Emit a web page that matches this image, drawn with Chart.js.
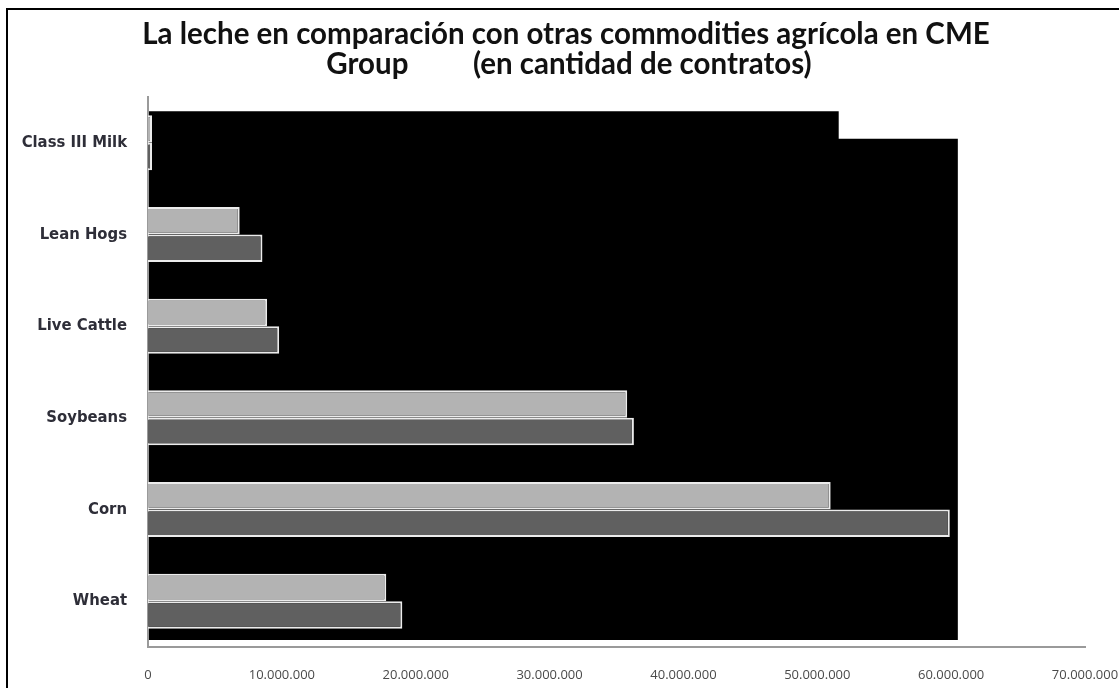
<!DOCTYPE html>
<html>
<head>
<meta charset="utf-8">
<script src="https://cdn.jsdelivr.net/npm/chart.js@4.4.1/dist/chart.umd.min.js"></script>
<style>
  html, body { margin: 0; padding: 0; background: #fff; }
  #wrap { position: relative; width: 1119px; height: 688px; }
</style>
</head>
<body>
<div id="wrap"><canvas id="c"></canvas></div>
<script>
const categories = ['Class III Milk', 'Lean Hogs', 'Live Cattle', 'Soybeans', 'Corn', 'Wheat'];
const seriesLight = [300000, 6850000, 8900000, 35800000, 51000000, 17800000];
const seriesDark  = [300000, 8550000, 9800000, 36300000, 59900000, 19000000];
// extents of the black background block (top step, full width)
const blackExtents = [51600000, 60500000];
const titleLines = ['La leche en comparación con otras commodities agrícola en CME', 'Group         (en cantidad de contratos)'];
const xMax = 70000000;
const xStep = 10000000;

function fmt(v) { return String(v).replace(/\B(?=(\d{3})+(?!\d))/g, '.'); }

const decor = {
  id: 'decor',
  beforeDraw(chart) {
    const ctx = chart.ctx;
    ctx.save();
    ctx.fillStyle = '#fff';
    ctx.fillRect(0, 0, chart.width, chart.height);
    ctx.fillStyle = '#000';
    ctx.fillRect(6, 8, 2, chart.height);
    ctx.fillRect(6, 8, chart.width, 2);
    ctx.fillStyle = '#111';
    ctx.textAlign = 'center';
    ctx.textBaseline = 'alphabetic';
    ctx.font = 'bold 29.5px Lato, "Open Sans", sans-serif';
    ctx.fillText(titleLines[0], 566, 44);
    ctx.fillText(titleLines[1], 569, 74);
    ctx.restore();
  },
  beforeDatasetsDraw(chart) {
    const ctx = chart.ctx;
    const xs = chart.scales.x;
    const m0 = chart.getDatasetMeta(0).data[0];
    const m1 = chart.getDatasetMeta(1).data[0];
    const left = xs.getPixelForValue(0) + 1;
    const r1 = xs.getPixelForValue(blackExtents[0]);
    const r2 = xs.getPixelForValue(blackExtents[1]);
    const t1 = m0.y - m0.height / 2 - 4;
    const t2 = m1.y - m1.height / 2 - 4;
    const bottom = chart.chartArea.bottom - 7;
    ctx.save();
    ctx.fillStyle = '#000';
    ctx.beginPath();
    ctx.moveTo(left, t1);
    ctx.lineTo(r1, t1);
    ctx.lineTo(r1, t2);
    ctx.lineTo(r2, t2);
    ctx.lineTo(r2, bottom);
    ctx.lineTo(left, bottom);
    ctx.closePath();
    ctx.fill();
    ctx.restore();
  }
};

new Chart(document.getElementById('c'), {
  type: 'bar',
  data: {
    labels: categories,
    datasets: [
      { data: seriesLight, backgroundColor: '#b3b3b3', borderColor: '#ececec', borderWidth: 2, borderSkipped: 'start' },
      { data: seriesDark, backgroundColor: '#606060', borderColor: '#ececec', borderWidth: 2, borderSkipped: 'start' }
    ]
  },
  options: {
    indexAxis: 'y',
    responsive: true,
    maintainAspectRatio: false,
    animation: false,
    devicePixelRatio: 1,
    categoryPercentage: 0.6,
    barPercentage: 1.0,
    layout: { padding: { top: 97, right: 34, bottom: 0, left: 0 } },
    plugins: { legend: { display: false }, title: { display: false }, tooltip: { enabled: false } },
    scales: {
      x: {
        min: 0, max: xMax,
        grid: { display: false },
        border: { display: true, color: '#9a9a9a', width: 2 },
        ticks: {
          stepSize: xStep,
          padding: 12,
          color: '#4a4a4a',
          font: { family: '"Open Sans", sans-serif', size: 13 },
          callback: (v) => fmt(v),
          maxRotation: 0
        },
        afterFit(s) { s.height = 41; s.paddingLeft = 0; s.paddingRight = 0; }
      },
      y: {
        grid: { display: false },
        border: { display: true, color: '#9a9a9a', width: 2 },
        ticks: {
          padding: 13,
          color: '#2e2e38',
          font: { family: '"Liberation Sans Narrow", "DejaVu Sans Condensed", Roboto, sans-serif', size: 16.5, weight: 'bold' }
        },
        afterFit(s) { s.width = 148; s.paddingTop = 0; s.paddingBottom = 0; }
      }
    }
  },
  plugins: [decor]
});
</script>
</body>
</html>
